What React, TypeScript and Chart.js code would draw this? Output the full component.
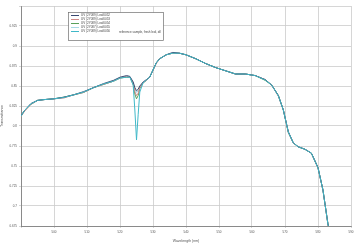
import React, { useEffect, useRef } from "react";
import { Chart, registerables } from "chart.js";

Chart.register(...registerables);

const wavelengths = [490, 491, 493, 495, 497, 500, 503, 506, 509, 512, 515, 518, 520, 522, 523, 524, 524.5, 525, 525.5, 526, 527, 528, 529, 530, 531, 532, 534, 536, 538, 540, 543, 546, 549, 552, 555, 558, 561, 564, 566, 568, 569.5, 571, 572.5, 574, 576, 578, 580, 581.5, 583, 583.5];

const leaf0052 = [0.813, 0.819, 0.828, 0.832, 0.833, 0.834, 0.836, 0.839, 0.843, 0.848, 0.853, 0.857, 0.861, 0.863, 0.862, 0.855, 0.848, 0.844, 0.846, 0.85, 0.855, 0.858, 0.861, 0.87, 0.879, 0.884, 0.889, 0.892, 0.891, 0.889, 0.884, 0.878, 0.873, 0.869, 0.865, 0.865, 0.863, 0.858, 0.851, 0.838, 0.82, 0.793, 0.779, 0.774, 0.771, 0.766, 0.748, 0.72, 0.678, 0.668];
const leaf0053 = [0.812, 0.818, 0.827, 0.832, 0.833, 0.834, 0.835, 0.839, 0.842, 0.848, 0.852, 0.856, 0.86, 0.862, 0.861, 0.853, 0.843, 0.838, 0.841, 0.848, 0.854, 0.857, 0.861, 0.87, 0.878, 0.884, 0.889, 0.891, 0.891, 0.889, 0.884, 0.878, 0.873, 0.869, 0.865, 0.865, 0.863, 0.858, 0.851, 0.837, 0.82, 0.792, 0.779, 0.774, 0.771, 0.766, 0.747, 0.72, 0.677, 0.668];
const leaf0054 = [0.812, 0.819, 0.827, 0.832, 0.833, 0.834, 0.836, 0.839, 0.842, 0.848, 0.852, 0.856, 0.86, 0.861, 0.861, 0.852, 0.84, 0.834, 0.838, 0.847, 0.854, 0.857, 0.861, 0.87, 0.879, 0.884, 0.889, 0.891, 0.891, 0.889, 0.884, 0.878, 0.873, 0.869, 0.865, 0.865, 0.863, 0.857, 0.851, 0.838, 0.82, 0.792, 0.779, 0.774, 0.771, 0.766, 0.748, 0.72, 0.678, 0.668];
const leaf0055 = [0.812, 0.819, 0.828, 0.832, 0.833, 0.834, 0.836, 0.839, 0.842, 0.848, 0.852, 0.856, 0.86, 0.861, 0.861, 0.854, 0.846, 0.842, 0.844, 0.849, 0.854, 0.857, 0.861, 0.87, 0.879, 0.884, 0.889, 0.891, 0.891, 0.889, 0.884, 0.878, 0.873, 0.869, 0.865, 0.865, 0.863, 0.858, 0.851, 0.838, 0.82, 0.792, 0.779, 0.774, 0.771, 0.766, 0.748, 0.72, 0.678, 0.668];
const leaf0056 = [0.8125, 0.819, 0.8275, 0.832, 0.833, 0.834, 0.8356, 0.839, 0.8425, 0.848, 0.8525, 0.856, 0.86, 0.861, 0.861, 0.851, 0.82, 0.7825, 0.814, 0.8425, 0.854, 0.8575, 0.861, 0.87, 0.879, 0.884, 0.889, 0.891, 0.891, 0.889, 0.884, 0.878, 0.873, 0.869, 0.865, 0.865, 0.863, 0.8575, 0.851, 0.8375, 0.82, 0.7925, 0.779, 0.774, 0.771, 0.766, 0.7475, 0.72, 0.6775, 0.668];

const seriesNames = [
  "UV (2Y089) Leaf0052",
  "UV (2Y089) Leaf0053",
  "UV (2Y089) Leaf0054",
  "UV (2Y087) Leaf0055",
  "UV (2Y089) Leaf0056",
];
const seriesColors = ["#3a4a72", "#d08a8a", "#5aa05a", "#a8d8e4", "#3fb8c8"];
const seriesValues = [leaf0052, leaf0053, leaf0054, leaf0055, leaf0056];
const noteText = "reference sample, fresh leaf, dil";

const xTitle = "Wavelength (nm)";
const yTitle = "Transmittance";

const legendPlugin = {
  id: "boxLegend",
  afterDraw(chart: any) {
    const ctx = chart.ctx;
    ctx.save();
    ctx.fillStyle = "#ffffff";
    ctx.fillRect(68.5, 12.5, 95, 28);
    ctx.strokeStyle = "#707070";
    ctx.lineWidth = 0.7;
    ctx.strokeRect(68.5, 12.5, 95, 28);
    ctx.font = "3px Arial";
    ctx.textBaseline = "middle";
    seriesNames.forEach((name, i) => {
      const y = 15.5 + i * 4;
      ctx.strokeStyle = seriesColors[i];
      ctx.lineWidth = 1;
      ctx.beginPath();
      ctx.moveTo(71, y);
      ctx.lineTo(79, y);
      ctx.stroke();
      ctx.fillStyle = "#444";
      ctx.fillText(name, 81, y);
    });
    ctx.fillStyle = "#444";
    ctx.fillText(noteText, 119, 32);
    ctx.restore();
  },
};

export default function App() {
  const ref = useRef<HTMLCanvasElement>(null);
  useEffect(() => {
    if (!ref.current) return;
    const chart = new Chart(ref.current, {
      type: "line",
      data: {
        datasets: seriesValues.map((vals, i) => ({
          label: seriesNames[i],
          data: wavelengths.map((w, j) => ({ x: w, y: vals[j] })),
          borderColor: seriesColors[i],
          borderWidth: 1,
          pointRadius: 0,
          tension: 0,
          fill: false,
          order: i === 4 ? 0 : 1,
        })),
      },
      options: {
        responsive: false,
        animation: false,
        layout: { padding: { left: 0, right: 9, top: 6, bottom: 0 } },
        plugins: { legend: { display: false }, tooltip: { enabled: false } },
        scales: {
          x: {
            type: "linear",
            min: 490,
            max: 590,
            afterFit: (s: any) => { s.height = 17; },
            ticks: {
              stepSize: 10,
              autoSkip: false,
              maxRotation: 0,
              padding: 2,
              color: "#555",
              font: { size: 3, family: "Arial" },
              callback: (v: any) => (v <= 490 ? "" : String(v)),
            },
            grid: { color: "#cccccc", lineWidth: 0.8, tickLength: 2 },
            border: { color: "#777", width: 0.8 },
            title: { display: true, text: xTitle, color: "#555", font: { size: 3.5, family: "Arial" }, padding: 0 },
          },
          y: {
            type: "linear",
            min: 0.675,
            max: 0.95,
            afterFit: (s: any) => { s.width = 21; },
            ticks: {
              stepSize: 0.025,
              autoSkip: false,
              padding: 2,
              color: "#555",
              font: { size: 3, family: "Arial" },
              callback: (v: any) => (v >= 0.949 ? "" : String(Number(Number(v).toFixed(3)))),
            },
            grid: { color: "#cccccc", lineWidth: 0.8, tickLength: 2 },
            border: { color: "#777", width: 0.8 },
            title: { display: true, text: yTitle, color: "#555", font: { size: 3.5, family: "Arial" }, padding: 0 },
          },
        },
      },
      plugins: [legendPlugin],
    });
    return () => chart.destroy();
  }, []);
  return (
    <div style={{ position: "fixed", left: 0, top: 0, width: 360, height: 243, background: "#fff" }}>
      <canvas ref={ref} width={360} height={243} />
    </div>
  );
}
